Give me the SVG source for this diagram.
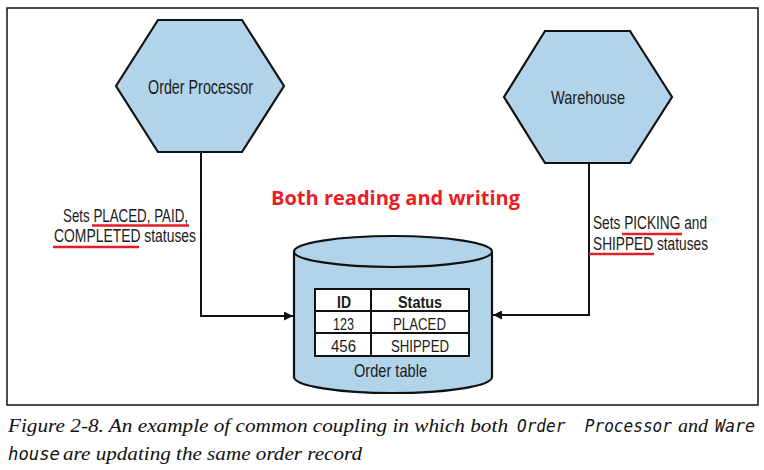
<svg xmlns="http://www.w3.org/2000/svg" width="764" height="470" viewBox="0 0 764 470">
<style>
.shape{fill:#b2d4ea;stroke:#111;stroke-width:2.2}
.lbl{font-family:"Liberation Sans",Arial,sans-serif;fill:#1a1a1a}
.cell{fill:#fff;stroke:#111;stroke-width:2}
.bold{font-weight:bold}
.red{fill:#ec1c24;font-family:"Open Sans","Liberation Sans",sans-serif;font-weight:bold}
.ul{stroke:#e21f26;stroke-width:2.6}
.conn{fill:none;stroke:#111;stroke-width:2}
.cap{font-family:"Liberation Serif","Times New Roman",serif;font-style:italic;fill:#111}
.mono{font-family:"DejaVu Sans Mono","Liberation Mono",monospace;font-style:oblique;fill:#111}
</style>
<defs>
<marker id="arr" viewBox="0 0 10 10" refX="10" refY="5" markerWidth="4.5" markerHeight="4.5" orient="auto" markerUnits="strokeWidth">
<path d="M0,0 L10,5 L0,10 z" fill="#111"/>
</marker>
</defs>
<rect x="7" y="8" width="751" height="397" fill="#fff" stroke="#111" stroke-width="1.5"/>
<g id="connectors">
<path class="conn" d="M201,152 V316 H293" marker-end="url(#arr)"/>
<path class="conn" d="M589,163 V315 H493" marker-end="url(#arr)"/>
</g>
<g id="order-processor">
<polygon class="shape" points="158,20 242,20 284,86 242,152 158,152 116,86"/>
<text class="lbl" x="148" y="94" font-size="19.5" textLength="105" lengthAdjust="spacingAndGlyphs">Order Processor</text>
</g>
<g id="warehouse">
<polygon class="shape" points="545,31 630,31 672,97 630,163 545,163 504,97"/>
<text class="lbl" x="551" y="104" font-size="18.5" textLength="74" lengthAdjust="spacingAndGlyphs">Warehouse</text>
</g>
<g id="note-both">
<text class="red" x="271" y="205" font-size="20" textLength="249" lengthAdjust="spacingAndGlyphs">Both reading and writing</text>
</g>
<g id="label-left">
<text class="lbl" x="63" y="222" font-size="17.5" textLength="125" lengthAdjust="spacingAndGlyphs">Sets PLACED, PAID,</text>
<text class="lbl" x="54" y="242" font-size="17.5" textLength="142" lengthAdjust="spacingAndGlyphs">COMPLETED statuses</text>
<line class="ul" x1="92" y1="225.5" x2="189" y2="225.5"/>
<line class="ul" x1="53" y1="247" x2="139" y2="247"/>
</g>
<g id="label-right">
<text class="lbl" x="593" y="229" font-size="17.5" textLength="114" lengthAdjust="spacingAndGlyphs">Sets PICKING and</text>
<text class="lbl" x="593" y="250" font-size="17.5" textLength="115" lengthAdjust="spacingAndGlyphs">SHIPPED statuses</text>
<line class="ul" x1="622" y1="234" x2="682" y2="234"/>
<line class="ul" x1="589" y1="254" x2="654" y2="254"/>
</g>
<g id="order-table">
<path class="shape" d="M294,251.5 V377 A99,16 0 0 0 492,377 V251.5"/>
<ellipse class="shape" cx="393" cy="251.5" rx="99" ry="15.5"/>
<rect class="cell" x="315" y="289" width="154" height="67" stroke-width="2.6"/>
<line stroke="#111" stroke-width="2" x1="371" y1="289" x2="371" y2="356"/>
<line stroke="#111" stroke-width="2" x1="315" y1="311" x2="469" y2="311"/>
<line stroke="#111" stroke-width="2" x1="315" y1="333" x2="469" y2="333"/>
<text class="lbl bold" x="337" y="308" font-size="17" textLength="14" lengthAdjust="spacingAndGlyphs">ID</text>
<text class="lbl bold" x="398" y="308" font-size="17" textLength="44" lengthAdjust="spacingAndGlyphs">Status</text>
<text class="lbl" x="333" y="330" font-size="17" textLength="21" lengthAdjust="spacingAndGlyphs">123</text>
<text class="lbl" x="393" y="330" font-size="17" textLength="53" lengthAdjust="spacingAndGlyphs">PLACED</text>
<text class="lbl" x="331" y="352" font-size="17" textLength="25" lengthAdjust="spacingAndGlyphs">456</text>
<text class="lbl" x="391" y="352" font-size="17" textLength="58" lengthAdjust="spacingAndGlyphs">SHIPPED</text>
<text class="lbl" x="354" y="377" font-size="17.5" textLength="73" lengthAdjust="spacingAndGlyphs">Order table</text>
</g>
<g id="caption">
<text class="cap" x="8" y="432" font-size="19" textLength="500" lengthAdjust="spacingAndGlyphs">Figure 2-8. An example of common coupling in which both</text>
<text class="mono" x="517" y="432" font-size="17" textLength="155" lengthAdjust="spacingAndGlyphs" xml:space="preserve">Order  Processor</text>
<text class="cap" x="678" y="432" font-size="19" textLength="30" lengthAdjust="spacingAndGlyphs">and</text>
<text class="mono" x="715" y="432" font-size="17" textLength="40" lengthAdjust="spacingAndGlyphs">Ware</text>
<text class="mono" x="8" y="460" font-size="17" textLength="52" lengthAdjust="spacingAndGlyphs">house</text>
<text class="cap" x="63" y="460" font-size="19" textLength="299" lengthAdjust="spacingAndGlyphs">are updating the same order record</text>
</g>
</svg>
